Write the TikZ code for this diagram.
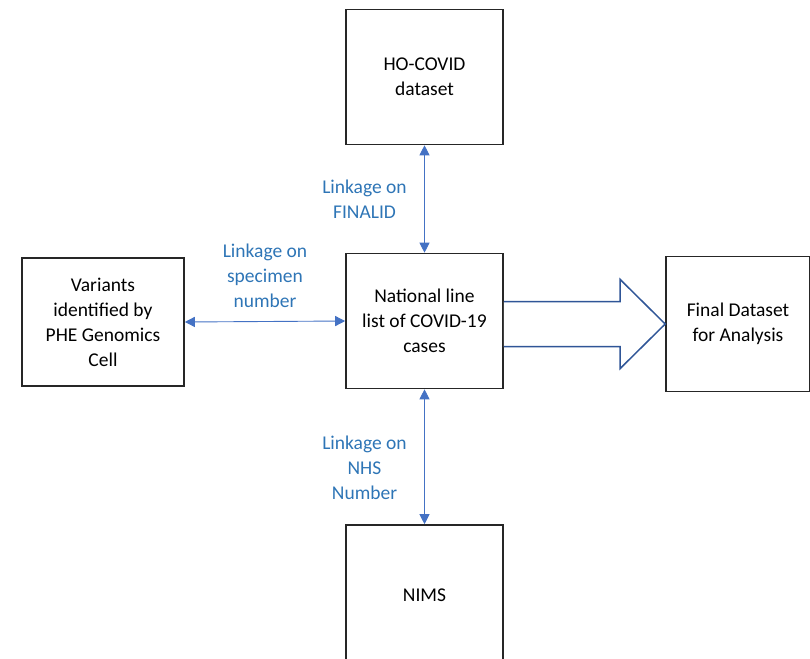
\documentclass[tikz,border=0pt]{standalone}
\usepackage{fontspec}
\setmainfont{Carlito}
\usepackage{tikz}
\usetikzlibrary{arrows.meta,calc}

\definecolor{linkblue}{RGB}{68,114,196}
\definecolor{labelblue}{RGB}{46,117,182}
\definecolor{bigarrow}{RGB}{47,85,151}

\tikzset{
    box/.style={draw=black!85, line width=1.6pt, fill=white, align=center,
        minimum width=157pt, minimum height=135pt, inner sep=2pt},
    link/.style={draw=linkblue, line width=0.9pt, {Triangle[length=10pt,width=10pt]}-{Triangle[length=10pt,width=10pt]}},
    linklabel/.style={text=labelblue, align=center}
}

\begin{document}
\begin{tikzpicture}[x=1pt, y=-1pt, font=\fontsize{19.5}{25}\selectfont]
    \useasboundingbox (0,0) rectangle (810,658);
    \clip (0,0) rectangle (810,658);

    \node [box] (hocovid) at (424.5,77) {HO-COVID\\dataset};
    \node [box] (natlist) at (424.5,321) {National line\\list of COVID-19\\cases};
    \node [box, minimum width=162pt, minimum height=128pt] (variants) at (103,322) {Variants\\identified by\\PHE Genomics\\Cell};
    \node [box, minimum width=144pt] (final) at (738,324) {Final Dataset\\for Analysis};
    \node [box, minimum height=140pt] (nims) at (424.5,595) {NIMS};

    \draw [link] (natlist.north) -- node[linklabel, left=14pt] {Linkage on\\FINALID} (hocovid.south);
    \draw [link] (natlist.west) -- node[linklabel, above=10pt] {Linkage on\\specimen\\number} (variants.east);
    \draw [link] (natlist.south) -- node[linklabel, left=14pt, pos=0.58] {Linkage on\\NHS\\Number} (nims.north);

    % big arrow to the final dataset
    \draw [bigarrow, line width=1.5pt, fill=white, line join=miter]
        ($(natlist.east |- final.west)+(0,-22.5)$) -- ($(final.west)+(-45,-22.5)$) -- ($(final.west)+(-45,-44.5)$)
        -- (final.west) -- ($(final.west)+(-45,44.5)$) -- ($(final.west)+(-45,22.5)$)
        -- ($(natlist.east |- final.west)+(0,22.5)$);
\end{tikzpicture}
\end{document}
